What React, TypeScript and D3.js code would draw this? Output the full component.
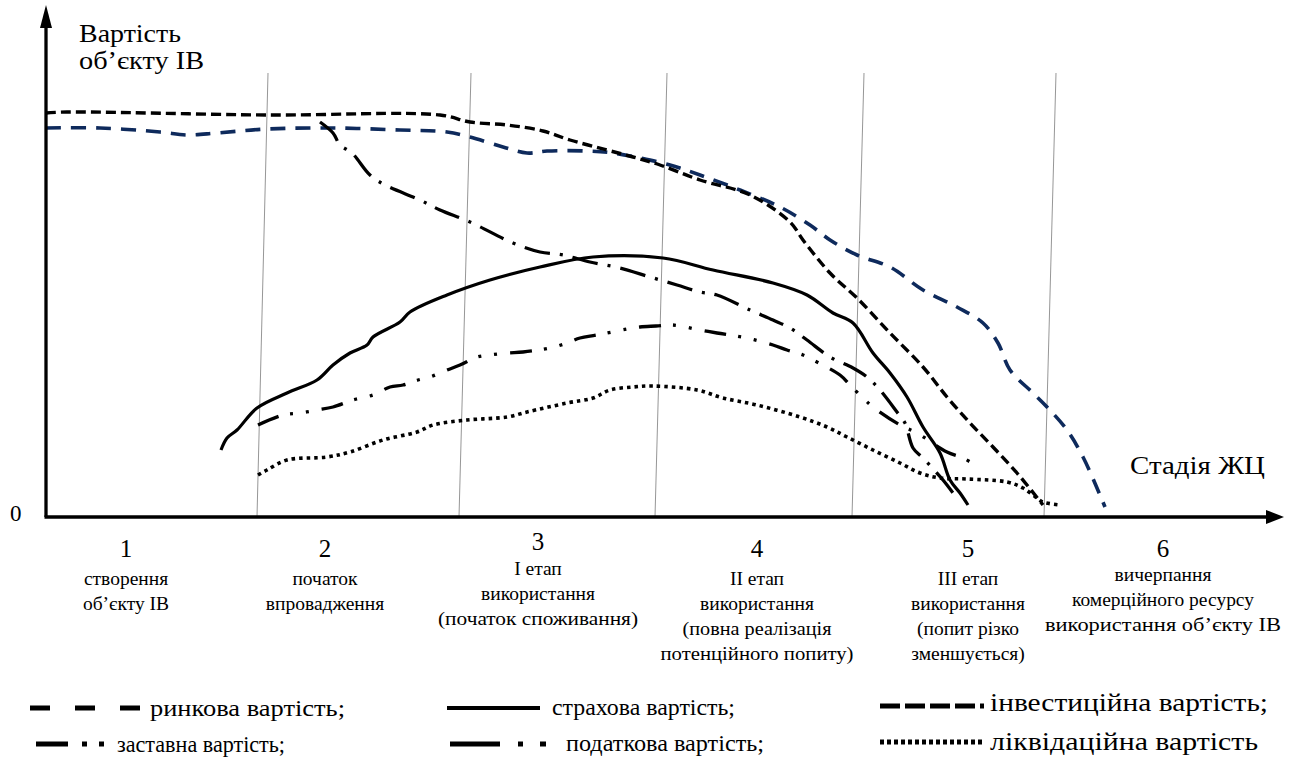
import React from "react";
import * as d3 from "d3";

type P = [number, number];

// x: position along the life-cycle axis (stage units), y: value (relative units)
const investmentValue: P[] = [
  [0, 80.8], [0.105, 81], [1.105, 80.4], [1.97, 80.4], [2.12, 79], [2.305, 78.4], [2.485, 77.2],
  [2.62, 75.4], [2.805, 73.4], [2.935, 72], [3.07, 70.4], [3.27, 67.4], [3.52, 64.4], [3.72, 59],
  [3.785, 55.4], [3.92, 48.8], [4.055, 43.8], [4.22, 36.8], [4.385, 30], [4.505, 24], [4.62, 18.8],
  [4.735, 14], [4.855, 8.8], [4.985, 2.4],
];

const marketValue: P[] = [
  [0, 77.8], [0.27, 77.8], [0.57, 77], [0.705, 76.4], [0.855, 76.8], [1.105, 77.6], [1.435, 77.8],
  [1.77, 77.4], [2.005, 77], [2.12, 76], [2.285, 74], [2.405, 72.8], [2.505, 73.2], [2.705, 73.2],
  [2.835, 72.8], [2.97, 71.8], [3.12, 70.4], [3.27, 68.4], [3.47, 65.4], [3.67, 62], [3.82, 58.4],
  [3.92, 55.4], [4.055, 52.4], [4.22, 50], [4.385, 45.4], [4.555, 42], [4.685, 38.8], [4.76, 34.8],
  [4.82, 29.4], [4.935, 24.8], [5.005, 22], [5.105, 17.4], [5.185, 12], [5.27, 4.4], [5.295, 2],
];

const insuranceValue: P[] = [
  [0.875, 13.4], [0.905, 15.8], [0.955, 17.4], [1.055, 21.8], [1.205, 24.8], [1.355, 27.4],
  [1.435, 30.4], [1.52, 32.8], [1.605, 34.4], [1.635, 36], [1.77, 39], [1.82, 41], [2.005, 44.4],
  [2.22, 47.4], [2.47, 50], [2.735, 52], [3.085, 51.8], [3.335, 49.4], [3.635, 46.8], [3.805, 44.4],
  [3.935, 40.8], [4.035, 38.8], [4.135, 32.8], [4.22, 28.8], [4.305, 24], [4.385, 18], [4.47, 12.8],
  [4.52, 7.4], [4.57, 4.8], [4.61, 2.4],
];

const pledgeValue: P[] = [
  [1.37, 79], [1.435, 76.8], [1.47, 74.4], [1.53, 72.8], [1.62, 68.4], [1.695, 66.4], [1.87, 63.4],
  [1.97, 61.4], [2.12, 59], [2.335, 54.8], [2.47, 53], [2.585, 52.4], [2.72, 51], [2.87, 49.8],
  [3.02, 48], [3.155, 46.4], [3.27, 45], [3.355, 44.4], [3.52, 41.4], [3.635, 39.4], [3.72, 37.8],
  [3.805, 35.4], [3.92, 32], [4.035, 29.8], [4.105, 28], [4.17, 25.4], [4.255, 21], [4.295, 18.8],
  [4.335, 13.8], [4.385, 11.8], [4.485, 7.4], [4.535, 4.8],
];

const taxValue: P[] = [
  [1.06, 18.4], [1.185, 20.4], [1.27, 20.8], [1.355, 21.4], [1.435, 22], [1.535, 23.4], [1.635, 24.4],
  [1.72, 26], [1.785, 26.4], [1.86, 27.4], [1.92, 28], [2.005, 29.4], [2.07, 30.4], [2.155, 32],
  [2.22, 32.4], [2.305, 32.8], [2.385, 33], [2.52, 33.8], [2.605, 34.8], [2.67, 35.8], [2.755, 36.4],
  [2.905, 37.6], [2.97, 38], [3.05, 38.2], [3.135, 38.4], [3.27, 37.4], [3.355, 36.8], [3.505, 35.8],
  [3.635, 34.4], [3.705, 33.4], [3.785, 32.4], [3.835, 31.4], [3.97, 28.4], [4.02, 26.4], [4.08, 24],
  [4.135, 22], [4.27, 18.4], [4.355, 16.8], [4.505, 13], [4.585, 11.8], [4.67, 9.8],
];

const liquidationValue: P[] = [
  [1.06, 8.4], [1.105, 9.4], [1.205, 11.4], [1.405, 12], [1.52, 13], [1.685, 15.4], [1.855, 17],
  [1.935, 18.4], [2.105, 19.4], [2.305, 20], [2.405, 21], [2.605, 22.8], [2.735, 23.8], [2.82, 25.4],
  [2.935, 26], [3.035, 26.2], [3.255, 25.4], [3.385, 23.8], [3.555, 22.4], [3.77, 20], [3.905, 18],
  [4.005, 16], [4.135, 13.4], [4.27, 10.8], [4.37, 8.8], [4.47, 7.8], [4.605, 7.6], [4.805, 7],
  [4.885, 5.8], [4.955, 3.8], [4.985, 3], [5.07, 2.4],
];

// stage boundaries (top, bottom) in stage units
const stageBoundaries: P[] = [[1.11, 1.055], [2.125, 2.065], [3.105, 3.045], [4.09, 4.03], [5.05, 4.99]];

const stageNumbers = ["1", "2", "3", "4", "5", "6"];
const stageCenters = [0.4, 1.395, 2.46, 3.555, 4.61, 5.585];
const stageDescriptions: string[][] = [
  ["створення", "об’єкту ІВ"],
  ["початок", "впровадження"],
  ["І етап", "використання", "(початок споживання)"],
  ["ІІ етап", "використання", "(повна реалізація", "потенційного попиту)"],
  ["ІІІ етап", "використання", "(попит різко", "зменшується)"],
  ["вичерпання", "комерційного ресурсу", "використання об’єкту ІВ"],
];

const legendLabels = [
  "ринкова вартість;",
  "страхова вартість;",
  "інвестиційна вартість;",
  "заставна вартість;",
  "податкова вартість;",
  "ліквідаційна вартість",
];

const yAxisTitle = ["Вартість", "об’єкту ІВ"];
const xAxisTitle = "Стадія ЖЦ";
const zeroLabel = "0";

const FONT = "Liberation Serif";
const NAVY = "#0e2a5c";

// widths of the widest description lines (layout only)
const wideLines: Record<string, number> = {
  "(початок споживання)": 200,
  "(повна реалізація": 149,
  "потенційного попиту)": 193,
  "комерційного ресурсу": 182,
  "використання об’єкту ІВ": 236,
};

export default function App() {
  const W = 1289, H = 771;
  const x = d3.scaleLinear().domain([0, 6.17]).range([46, 1280]);
  const y = d3.scaleLinear().domain([0, 100]).range([517, 17]);
  const line = d3
    .line<P>()
    .x((d) => x(d[0]))
    .y((d) => y(d[1]))
    .curve(d3.curveCatmullRom.alpha(0.5));

  const series = [
    { data: marketValue, stroke: NAVY, width: 3.6, dash: "15,10" },
    { data: investmentValue, stroke: "#000", width: 3.4, dash: "10,5" },
    { data: insuranceValue, stroke: "#000", width: 3.2, dash: undefined },
    { data: pledgeValue, stroke: "#000", width: 3.3, dash: "26,10,3,10" },
    { data: taxValue, stroke: "#000", width: 3.3, dash: "22,12,3,13,3,13" },
    { data: liquidationValue, stroke: "#000", width: 3.6, dash: "3.5,4" },
  ];

  const legendSamples = [
    { x0: 30, x1: 150, dash: "20,25", width: 5 },
    { x0: 447, x1: 540, dash: undefined, width: 4 },
    { x0: 880, x1: 985, dash: "20,5,20,5,20,5,20,5,4", width: 5 },
    { x0: 36, x1: 113, dash: "32,14,5,12,5", width: 5 },
    { x0: 450, x1: 551, dash: "50,18,5,17,6", width: 5 },
    { x0: 880, x1: 985, dash: "4,3", width: 5 },
  ];
  const legendTextX = [150, 552, 990, 117, 566, 990];
  const legendTextLen = [195, 183, 278, 168, 198, 268];
  const legendFont = [24, 24, 25, 23, 24, 25];
  const legendRowY = [708, 744];
  const legendTextBaseline = [[716, 715, 711], [752, 751, 750]];

  const texts: { x: number; y: number; size: number; anchor?: string; s: string; len?: number }[] = [];
  texts.push({ x: 79, y: 42, size: 25, s: yAxisTitle[0], len: 102 });
  texts.push({ x: 79, y: 69, size: 25, s: yAxisTitle[1], len: 125 });
  texts.push({ x: 1130, y: 474, size: 25, s: xAxisTitle, len: 135 });
  texts.push({ x: 10, y: 521, size: 23, s: zeroLabel });
  stageNumbers.forEach((n, i) => {
    const cx = x(stageCenters[i]);
    texts.push({ x: cx, y: i === 2 ? 550 : 557, size: 25, anchor: "middle", s: n });
    stageDescriptions[i].forEach((t, j) => {
      texts.push({
        x: cx,
        y: (i === 2 ? 575 : i === 5 ? 581 : 585) + j * 25,
        size: 19.5,
        anchor: "middle",
        s: t,
        len: wideLines[t],
      });
    });
  });
  legendLabels.forEach((lab, i) => {
    const row = i < 3 ? 0 : 1;
    const col = i % 3;
    texts.push({ x: legendTextX[i], y: legendTextBaseline[row][col], size: legendFont[i], s: lab, len: legendTextLen[i] });
  });

  return (
    <svg width={W} height={H} style={{ position: "absolute", left: 0, top: 0 }}>
      <rect width={W} height={H} fill="#fff" />
      {stageBoundaries.map((b, i) => (
        <line key={i} x1={x(b[0])} y1={73} x2={x(b[1])} y2={y(0)} stroke="#8a8a8a" strokeWidth={0.9} />
      ))}
      {series.map((s, i) => (
        <path
          key={i}
          d={line(s.data) || ""}
          fill="none"
          stroke={s.stroke}
          strokeWidth={s.width}
          strokeDasharray={s.dash}
          strokeLinejoin="round"
        />
      ))}
      <line x1={x(0)} y1={y(0)} x2={x(0)} y2={26} stroke="#000" strokeWidth={3.3} />
      <path d={`M${x(0)},5 L${x(0) - 6},28 L${x(0) + 6},28 Z`} fill="#000" />
      <line x1={x(0) - 1.5} y1={y(0)} x2={1268} y2={y(0)} stroke="#000" strokeWidth={3.3} />
      <path d={`M1284,${y(0)} L1266,${y(0) - 7} L1266,${y(0) + 7} Z`} fill="#000" />
      {legendLabels.map((_, i) => {
        const row = i < 3 ? 0 : 1;
        const col = i % 3;
        const s = legendSamples[i];
        const ly = legendRowY[row] + (col === 2 ? -2 : 0);
        return (
          <line key={i} x1={s.x0} y1={ly} x2={s.x1} y2={ly} stroke="#000" strokeWidth={s.width} strokeDasharray={s.dash} />
        );
      })}
      {texts.map((t, i) => (
        <text
          key={i}
          x={t.x}
          y={t.y}
          fontSize={t.size}
          fontFamily={FONT}
          textAnchor={t.anchor || "start"}
          fill="#000"
          textLength={t.len}
          lengthAdjust={t.len ? "spacingAndGlyphs" : undefined}
        >
          {t.s}
        </text>
      ))}
    </svg>
  );
}
